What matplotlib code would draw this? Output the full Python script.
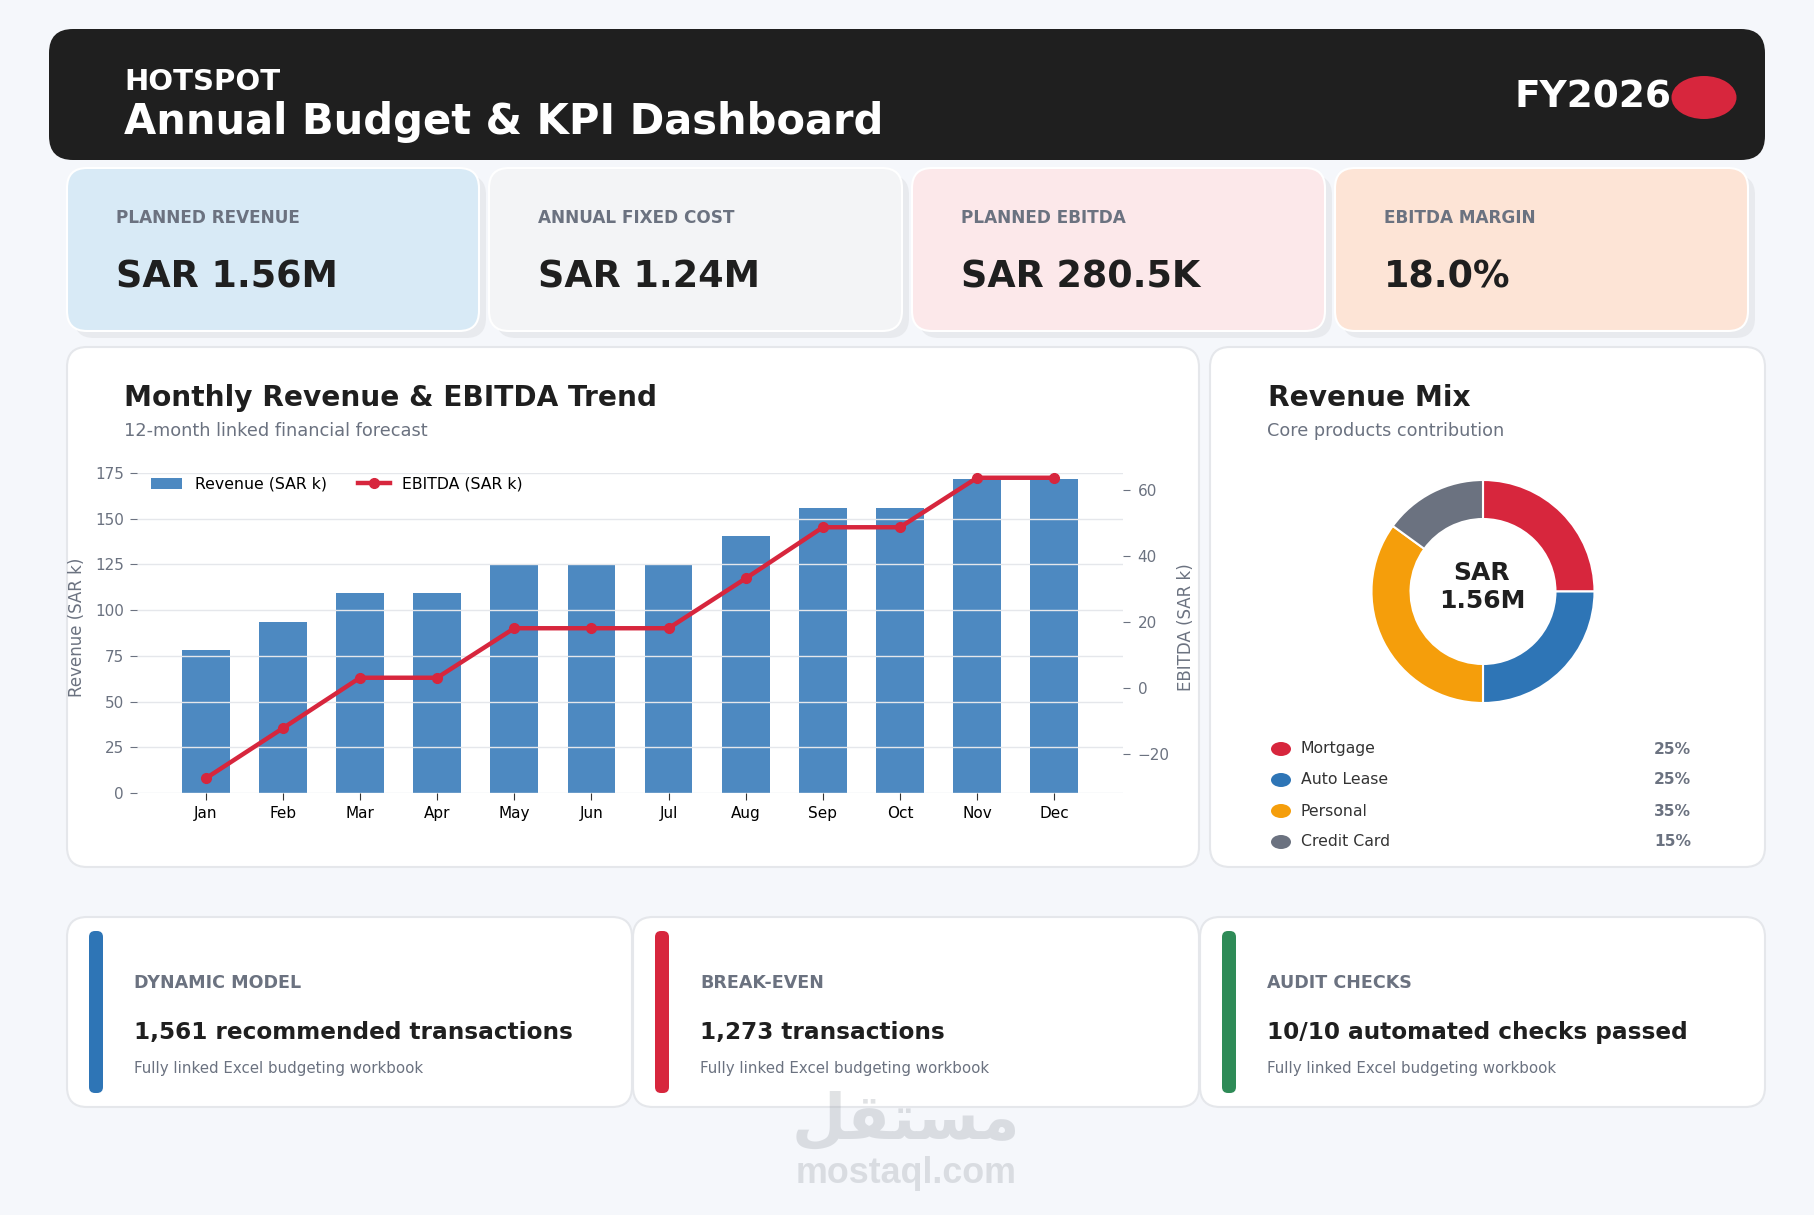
import matplotlib
matplotlib.use("Agg")
import matplotlib.pyplot as plt
from matplotlib.patches import FancyBboxPatch, Ellipse

months = ["Jan", "Feb", "Mar", "Apr", "May", "Jun", "Jul", "Aug", "Sep", "Oct", "Nov", "Dec"]
revenue = [78.1, 93.7, 109.3, 109.3, 124.9, 124.9, 124.9, 140.5, 156.1, 156.1, 171.7, 171.7]
ebitda = [-27.3, -12.1, 3.2, 3.2, 18.2, 18.2, 18.2, 33.3, 48.8, 48.8, 63.8, 63.8]

mix_labels = ["Mortgage", "Auto Lease", "Personal", "Credit Card"]
mix_values = [25, 25, 35, 15]
mix_colors = ["#D7263D", "#2E75B6", "#F59E0B", "#6B7280"]

kpi_labels = ["PLANNED REVENUE", "ANNUAL FIXED COST", "PLANNED EBITDA", "EBITDA MARGIN"]
kpi_values = ["SAR 1.56M", "SAR 1.24M", "SAR 280.5K", "18.0%"]
kpi_colors = ["#D8EAF6", "#F3F4F6", "#FCE8EA", "#FDE4D6"]

note_labels = ["DYNAMIC MODEL", "BREAK-EVEN", "AUDIT CHECKS"]
note_values = ["1,561 recommended transactions", "1,273 transactions", "10/10 automated checks passed"]
note_colors = ["#2E75B6", "#D7263D", "#2E8B57"]

W, H = 1815, 1215
BG = "#F5F7FB"
INK = "#1F1F1F"
GREY = "#6B7280"
LINE = "#E5E7EB"

fig = plt.figure(figsize=(W / 100, H / 100), dpi=100, facecolor=BG)

# overlay in pixel coordinates for cards and text
page = fig.add_axes([0, 0, 1, 1], zorder=0)
page.set_xlim(0, W)
page.set_ylim(H, 0)
page.axis("off")


def card(x0, y0, x1, y1, color, edge="none", lw=0, r=20, z=1):
    p = FancyBboxPatch((x0 + r, y0 + r), x1 - x0 - 2 * r, y1 - y0 - 2 * r,
                       boxstyle=f"round,pad={r},rounding_size={r}",
                       fc=color, ec=edge, lw=lw, zorder=z)
    page.add_patch(p)


def label(x, y, s, size, color=INK, weight="normal", ha="left", va="baseline", **kw):
    page.text(x, y, s, fontsize=size, color=color, fontweight=weight, ha=ha, va=va, zorder=5, **kw)


# header
card(49, 29, 1765, 160, "#1F1F1F", r=24)
label(124, 90, "HOTSPOT", 21, "white", "bold")
label(124, 134, "Annual Budget & KPI Dashboard", 30, "white", "bold")
label(1672, 107, "FY2026", 27, "white", "bold", ha="right")
page.add_patch(Ellipse((1704, 97.5), 65, 43, fc="#D7263D", ec="none", zorder=3))

# kpi cards
kpi_x = [(67, 479), (489, 902), (912, 1325), (1335, 1748)]
for (x0, x1), name, val, col in zip(kpi_x, kpi_labels, kpi_values, kpi_colors):
    card(x0 + 7, 175, x1 + 7, 338, "#E8EAEE")
    card(x0, 168, x1, 331, col, "white", 1.5)
    label(x0 + 49, 223, name, 12.15, GREY, "bold")
    label(x0 + 49, 287, val, 26.3, INK, "bold")

# chart panels
card(67, 347, 1199, 867, "white", LINE, 1.5)
card(1210, 347, 1765, 867, "white", LINE, 1.5)
label(124, 406, "Monthly Revenue & EBITDA Trend", 20.17, INK, "bold")
label(124, 435.5, "12-month linked financial forecast", 12.75, GREY)
label(1268, 406, "Revenue Mix", 20.17, INK, "bold")
label(1267, 435.5, "Core products contribution", 12.7, GREY)

# bar + line chart
ax = fig.add_axes([137 / W, 1 - 793 / H, 986 / W, 320 / H], zorder=2)
ax.patch.set_alpha(0)
bars = ax.bar(months, revenue, width=0.62, color="#2E75B6", alpha=0.85, label="Revenue (SAR k)")
ax.set_xlim(-0.891, 11.891)
ax.set_ylim(0, 175)
ax.set_yticks([0, 25, 50, 75, 100, 125, 150, 175])
ax.grid(axis="y", color=LINE, lw=1)
ax.grid(axis="x", visible=False)
ax.tick_params(axis="y", colors=GREY, labelsize=11, length=5, pad=4.5)
ax.tick_params(axis="x", labelsize=11, length=5, color="#333333", pad=4.5)
for s in ax.spines.values():
    s.set_visible(False)
ax.set_ylabel("Revenue (SAR k)", color=GREY, fontsize=12)
ax.yaxis.set_label_coords((86.5 - 137) / 986, (793 - 627) / 320)

ax2 = ax.twinx()
ax2.patch.set_alpha(0)
line, = ax2.plot(months, ebitda, color="#D7263D", lw=3.2, marker="o", ms=7, label="EBITDA (SAR k)", clip_on=False)
ax2.set_ylim((688.3 - 793) / 3.3, (688.3 - 473) / 3.3)
ax2.set_yticks([-20, 0, 20, 40, 60])
ax2.tick_params(axis="y", colors=GREY, labelsize=11, length=5, pad=5.5)
for s in ax2.spines.values():
    s.set_visible(False)
ax2.set_ylabel("EBITDA (SAR k)", color=GREY, fontsize=12)
ax2.yaxis.set_label_coords((1177 - 137) / 986, (793 - 627) / 320)

ax2.legend([bars, line], ["Revenue (SAR k)", "EBITDA (SAR k)"], loc="upper left",
           ncol=2, frameon=False, fontsize=11.3, borderpad=0, borderaxespad=0,
           bbox_to_anchor=(14 / 986, 0.989))

# donut
r = 111.5
donut = fig.add_axes([(1483 - r) / W, 1 - (591.5 + r) / H, 2 * r / W, 2 * r / H], zorder=2)
donut.pie(mix_values, colors=mix_colors, startangle=90, counterclock=False, radius=1,
          wedgeprops={"width": 0.35, "edgecolor": "white", "linewidth": 1.5})
donut.set_xlim(-1, 1)
donut.set_ylim(-1, 1)
label(1482, 580, "SAR", 18, INK, "bold", ha="center")
label(1482, 608, "1.56M", 18, INK, "bold", ha="center")

for i, (name, val, col) in enumerate(zip(mix_labels, mix_values, mix_colors)):
    y = 749 + i * 31
    page.add_patch(Ellipse((1281, y), 20, 14, fc=col, ec="none", zorder=3))
    label(1301, y, name, 11.35, "#333333", va="center")
    label(1691, y, f"{val}%", 11.2, GREY, "bold", ha="right", va="center")

# bottom cards
note_x = [(67, 632), (633, 1199), (1200, 1765)]
for (x0, x1), name, val, col in zip(note_x, note_labels, note_values, note_colors):
    card(x0, 917, x1, 1107, "white", LINE, 1.5)
    card(x0 + 22, 931, x0 + 36, 1093, col, r=6, z=3)
    label(x0 + 67, 988, name, 12.6, GREY, "bold")
    label(x0 + 67, 1039, val, 16.7, INK, "bold")
    label(x0 + 67, 1073, "Fully linked Excel budgeting workbook", 10.8, GREY)

# watermark
label(906, 1183, "mostaql.com", 25.8, "#9AA0A8", "bold", ha="center", family="Liberation Sans", alpha=0.3)
label(906, 1138, "\ufede\ufed8\ufe98\ufeb4\ufee3", 45, "#9AA0A8", "bold", ha="center", alpha=0.3)

fig.savefig("out.png", dpi=100, facecolor=BG)
